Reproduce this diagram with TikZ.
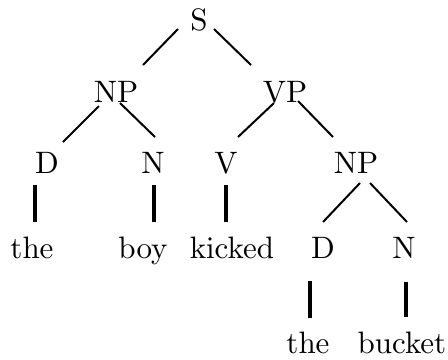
\documentclass[tikz,border=0pt]{standalone}
\font\treefont=cmr10 at 15.5pt
\begin{document}
\begin{tikzpicture}[x=0.5pt,y=-0.5pt,
  every node/.style={anchor=base,inner sep=0pt,font=\treefont},
  branch/.style={line width=1pt},
  stem/.style={line width=1.6pt}]

\useasboundingbox (0,0) rectangle (448,359);

\node (s) at (199,30) {S};

\node (np) at (116,102) {NP};
\node (vp) at (285,102) {VP};

\node (d) at (47,173) {D};
\node (n) at (153,173) {N};
\node (v) at (226,173) {V};
\node (obj) at (356,173) {NP};

% words of the first row
\node (the) at (32,258) {the};
\node (boy) at (143,258) {boy};
\node (kicked) at (232,258) {kicked};

\node (objd) at (323,258) {D};
\node (objn) at (404,258) {N};

\node (thetoo) at (308,353) {the};
\node (bucket) at (402,353) {bucket};

\draw[branch] ([shift={(-21,-1)}]s.base) -- ([shift={(27,-37)}]np.base);
\draw[branch] ([shift={(15,-1)}]s.base) -- ([shift={(-34,-37)}]vp.base);

\draw[branch] ([shift={(-17,4)}]np.base) -- ([shift={(16,-31)}]d.base);
\draw[branch] ([shift={(4,1)}]np.base) -- ([shift={(2,-36)}]n.base);
\draw[branch] ([shift={(-11,1)}]vp.base) -- ([shift={(12,-36)}]v.base);
\draw[branch] ([shift={(13,-1)}]vp.base) -- ([shift={(-23,-36)}]obj.base);

\draw[stem] ([shift={(-12,12)}]d.base) -- ([shift={(3,-36)}]the.base);
\draw[stem] ([shift={(1,12)}]n.base) -- ([shift={(11,-36)}]boy.base);
\draw[stem] ([shift={(0,12)}]v.base) -- ([shift={(-6,-36)}]kicked.base);

\draw[branch] ([shift={(4,10)}]obj.base) -- ([shift={(0,-36)}]objd.base);
\draw[branch] ([shift={(14,10)}]obj.base) -- ([shift={(3,-36)}]objn.base);

\draw[stem] ([shift={(-13,23)}]objd.base) -- ([shift={(2,-35)}]thetoo.base);
\draw[stem] ([shift={(2,24)}]objn.base) -- ([shift={(4,-36)}]bucket.base);

\end{tikzpicture}
\end{document}
